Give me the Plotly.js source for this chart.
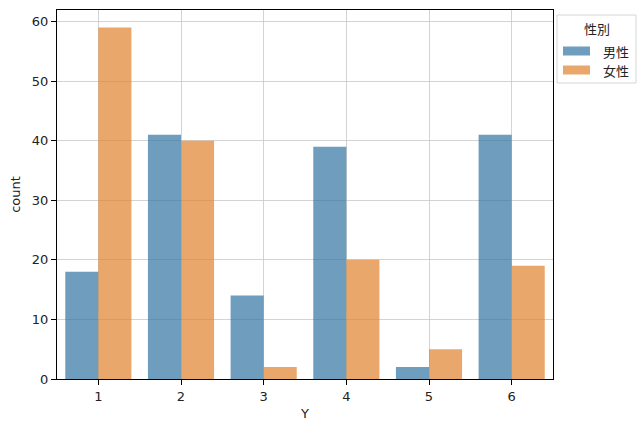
<!DOCTYPE html>
<html><head><meta charset="utf-8">
<script src="https://cdn.plot.ly/plotly-3.0.1.min.js"></script>
<style>body{margin:0;padding:0;background:#fff}</style>
</head><body>
<div id="chart" style="width:644px;height:432px"></div>
<script>
const categories = ['1','2','3','4','5','6'];
const male = [18, 41, 14, 39, 2, 41];
const female = [59, 40, 2, 20, 5, 19];
const seriesNames = ['男性', '女性'];
const seriesColors = ['rgba(50,116,161,0.7)', 'rgba(225,129,44,0.7)'];
const legendTitle = '性別';
const xTitle = 'Y';
const yTitle = 'count';

const font = "DejaVu Sans, 'Noto Sans CJK JP', sans-serif";
const cjk = "'Noto Sans CJK JP', sans-serif";
const series = [male, female];
const traces = series.map((vals, i) => ({
  type:'bar', name:seriesNames[i], x:categories, y:vals,
  marker:{color:seriesColors[i], line:{width:0}}, showlegend:false
}));

// plot area in pixels: x 57..553, y 10..379
const L = 57, R = 553, T = 10, B = 379;
const px = v => (v - L) / (R - L);
const py = v => (B - v) / (B - T);

const shapes = [
  {type:'rect', xref:'paper', yref:'paper', x0:px(557), x1:px(636), y0:py(83), y1:py(15),
   line:{color:'#d6d6d6', width:1}, fillcolor:'rgba(255,255,255,0.8)', layer:'above'}
];
const annotations = [
  {xref:'paper', yref:'paper', x:px(596.5), y:py(29), text:legendTitle, showarrow:false,
   xanchor:'center', yanchor:'middle', font:{family:cjk, size:13, color:'#222'}}
];
seriesNames.forEach((n, i) => {
  const cy = 51 + i * 19;
  shapes.push({type:'rect', xref:'paper', yref:'paper', x0:px(563), x1:px(590),
    y0:py(cy + 4.5), y1:py(cy - 4.5), line:{width:0}, fillcolor:seriesColors[i], layer:'above'});
  annotations.push({xref:'paper', yref:'paper', x:px(601), y:py(cy), text:n, showarrow:false,
    xanchor:'left', yanchor:'middle', font:{family:cjk, size:13, color:'#222'}});
});

const layout = {
  width:644, height:432,
  margin:{l:L, r:644 - R, t:T, b:432 - B},
  paper_bgcolor:'#fff', plot_bgcolor:'#fff',
  font:{family:font, size:13, color:'#222'},
  barmode:'group', bargap:0.2, bargroupgap:0,
  showlegend:false,
  shapes:shapes, annotations:annotations,
  xaxis:{type:'category', title:{text:xTitle, standoff:6, font:{size:13}},
    showgrid:true, gridcolor:'#c8c8c8', gridwidth:0.8,
    showline:true, linecolor:'#000', linewidth:1, mirror:true,
    ticks:'outside', ticklen:5, tickcolor:'#000', zeroline:false},
  yaxis:{range:[0, 61.95], title:{text:yTitle, standoff:8, font:{size:13}},
    dtick:10, showgrid:true, gridcolor:'#c8c8c8', gridwidth:0.8,
    showline:true, linecolor:'#000', linewidth:1, mirror:true,
    ticks:'outside', ticklen:5, tickcolor:'#000', zeroline:false}
};
Plotly.newPlot('chart', traces, layout, {displayModeBar:false, staticPlot:true});
</script>
</body></html>
